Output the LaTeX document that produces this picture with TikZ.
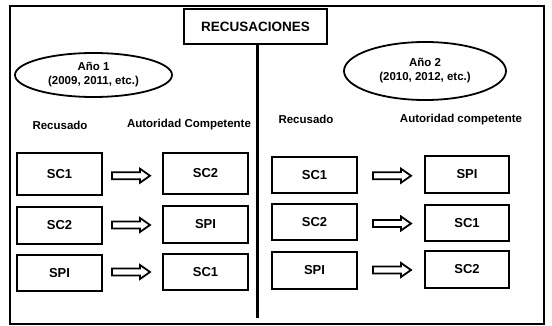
\documentclass[tikz,border=0pt]{standalone}
\usepackage{fontspec}
\setmainfont{Liberation Sans}
\usetikzlibrary{shapes.geometric,calc}
\tikzset{
  box/.style={draw,line width=2pt,minimum width=85pt,inner sep=0pt,font=\fontsize{13}{15}\selectfont\bfseries},
  oval/.style={ellipse,draw,line width=1.8pt,inner sep=0pt,align=center,font=\fontsize{11.5}{14}\selectfont\bfseries},
  lbl/.style={inner sep=0pt,font=\fontsize{11.5}{13}\selectfont\bfseries},
  barrow/.pic={\draw[line width=1.8pt,line join=miter] (-19,-3.5) -- (9,-3.5) -- (9,-7) -- (19,0) -- (9,7) -- (9,3.5) -- (-19,3.5) -- cycle;}
}
\begin{document}
\begin{tikzpicture}[x=1pt,y=-1pt]
\useasboundingbox (0,0) rectangle (552,326);
\draw[line width=2pt] (10,6) rectangle (544,324);
\node[draw,line width=2.2pt,minimum width=143pt,minimum height=35pt,inner sep=0pt,font=\fontsize{13.5}{15}\selectfont\bfseries] (title) at (255.5,26.5) {RECUSACIONES};
\coordinate (divtop) at (257.5,44);
\coordinate (divbot) at (257.5,318);
\draw[line width=2.4pt] (divtop) -- (divbot);

\node[oval,minimum width=157pt,minimum height=44pt] (e1) at (93.5,75) {Año 1\\(2009, 2011, etc.)};
\node[oval,minimum width=162pt,minimum height=58pt] (e2) at (425,71) {Año 2\\(2010, 2012, etc.)};

\node[lbl] (r1) at (60,125) {Recusado};
\node[lbl] (a1) at (189,125) {Autoridad Competente};
\node[lbl] (r2) at (306,119) {Recusado};
\node[lbl] (a2) at (461,120) {Autoridad competente};

\node[box,minimum height=42pt] (L1) at (59.5,174) {SC1};
\node[box,minimum height=37pt] (L2) at (59.5,225.5) {SC2};
\node[box,minimum height=36pt] (L3) at (59.5,273) {SPI};
\node[box,minimum height=41pt] (M1) at (205.5,173.5) {SC2};
\node[box,minimum height=37pt] (M2) at (205.5,224.5) {SPI};
\node[box,minimum height=36pt] (M3) at (205.5,272) {SC1};

\node[box,minimum height=36pt] (R1) at (314.5,175) {SC1};
\node[box,minimum height=36pt] (R2) at (314.5,222) {SC2};
\node[box,minimum height=37pt] (R3) at (314.5,270.5) {SPI};
\node[box,minimum width=84pt,minimum height=37pt] (S1) at (467,174.5) {SPI};
\node[box,minimum width=84pt,minimum height=36pt] (S2) at (467,223) {SC1};
\node[box,minimum width=84pt,minimum height=37pt] (S3) at (467,269.5) {SC2};

\path ($(L1.east)!0.5!(M1.west)$) ++(-1.5,2) pic {barrow};
\path ($(L2.east)!0.5!(M2.west)$) ++(-1.5,0) pic {barrow};
\path ($(L3.east)!0.5!(M3.west)$) ++(-1.5,-0.5) pic {barrow};
\path ($(R1.east)!0.5!(S1.west)$) ++(1,1) pic {barrow};
\path ($(R2.east)!0.5!(S2.west)$) ++(1,1) pic {barrow};
\path ($(R3.east)!0.5!(S3.west)$) ++(1,0) pic {barrow};
\end{tikzpicture}
\end{document}
